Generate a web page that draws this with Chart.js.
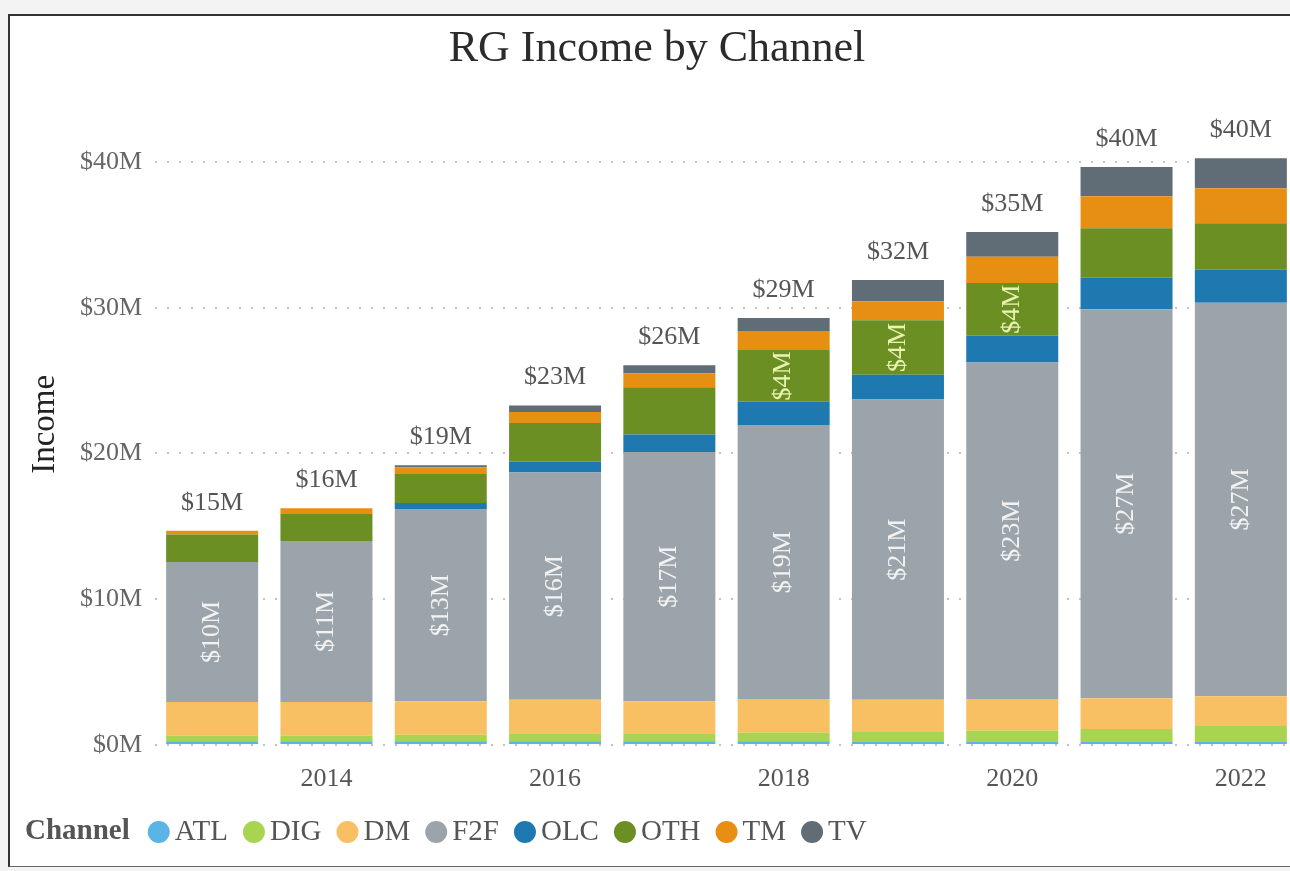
<!DOCTYPE html>
<html>
<head>
<meta charset="utf-8">
<title>RG Income by Channel</title>
<script src="https://cdn.jsdelivr.net/npm/chart.js@4.4.1/dist/chart.umd.min.js"></script>
<style>
  html, body { margin: 0; padding: 0; background: #f3f3f3; overflow: hidden; }
  #frame {
    position: absolute; left: 8px; top: 14px;
    width: 1320px; height: 850px;
    background: #fff;
    border-left: 2px solid #333; border-top: 2px solid #333; border-bottom: 1px solid #666;
  }
  #wrap { position: relative; width: 1300px; height: 850px; }
</style>
</head>
<body>
<div id="frame"><div id="wrap"><canvas id="incomeChart"></canvas></div></div>
<script>
const FONT = "'Liberation Serif', 'Times New Roman', serif";

const years = ['2013', '2014', '2015', '2016', '2017', '2018', '2019', '2020', '2021', '2022'];
const channels = ['ATL', 'DIG', 'DM', 'F2F', 'OLC', 'OTH', 'TM', 'TV'];

// income per channel, $M
const atl = [0.25, 0.25, 0.25, 0.25, 0.25, 0.25, 0.2, 0.2, 0.2, 0.2];
const dig = [0.4, 0.4, 0.45, 0.5, 0.5, 0.6, 0.7, 0.8, 0.9, 1.1];
const dm = [2.3, 2.3, 2.3, 2.35, 2.25, 2.3, 2.2, 2.15, 2.1, 2.05];
const f2f = [9.6, 11.05, 13.2, 15.6, 17.1, 18.8, 20.6, 23.1, 26.7, 27.0];
const olc = [0, 0, 0.4, 0.75, 1.2, 1.6, 1.7, 1.85, 2.15, 2.25];
const oth = [1.9, 1.85, 2.0, 2.65, 3.25, 3.55, 3.75, 3.6, 3.4, 3.2];
const tm = [0.25, 0.4, 0.45, 0.75, 0.95, 1.3, 1.3, 1.8, 2.2, 2.4];
const tv = [0, 0, 0.15, 0.45, 0.55, 0.9, 1.45, 1.7, 2.0, 2.05];

const yTicks = [0, 10, 20, 30, 40];

const series = [atl, dig, dm, f2f, olc, oth, tm, tv];

const COLORS = {
  ATL: '#5ab4e5',
  DIG: '#a8d451',
  DM: '#f8c062',
  F2F: '#9ba4ab',
  OLC: '#1f79b1',
  OTH: '#6c8f24',
  TM: '#e68f12',
  TV: '#606d76',
};
const INSIDE_TEXT = { OTH: '#e8f3b0' };

function money(v) {
  return '$' + Math.round(v) + 'M';
}

const data = {
  labels: years,
  datasets: channels.map((name, i) => ({
    label: name,
    data: series[i],
    backgroundColor: COLORS[name],
    borderWidth: 0,
    categoryPercentage: 1,
    barPercentage: 0.805,
  }))
};

// rotated values inside the segments + totals over each bar
const barLabels = {
  id: 'barLabels',
  afterDatasetsDraw(chart) {
    const ctx = chart.ctx;
    const yScale = chart.scales.y;
    ctx.save();
    ctx.font = '26px ' + FONT;
    ctx.textAlign = 'center';
    ctx.textBaseline = 'middle';

    chart.data.datasets.forEach((ds, di) => {
      const meta = chart.getDatasetMeta(di);
      meta.data.forEach((bar, i) => {
        const text = money(ds.data[i]);
        const h = Math.abs(bar.base - bar.y);
        if (h < ctx.measureText(text).width + 2) return;
        ctx.save();
        ctx.translate(bar.x, (bar.y + bar.base) / 2);
        ctx.rotate(-Math.PI / 2);
        ctx.fillStyle = INSIDE_TEXT[ds.label] || '#f2f2f2';
        ctx.fillText(text, 0, 0);
        ctx.restore();
      });
    });

    ctx.fillStyle = '#555';
    years.forEach((yr, i) => {
      const total = series.reduce((s, arr) => s + arr[i], 0);
      const x = chart.getDatasetMeta(0).data[i].x;
      ctx.fillText(money(total), x, yScale.getPixelForValue(total) - 28);
    });
    ctx.restore();
  }
};

// title and the inline "Channel" legend
const decorations = {
  id: 'decorations',
  afterDraw(chart) {
    const ctx = chart.ctx;
    ctx.save();
    ctx.textBaseline = 'middle';

    ctx.textAlign = 'center';
    ctx.fillStyle = '#2b2b2b';
    ctx.font = '44px ' + FONT;
    ctx.fillText('RG Income by Channel', 647, 33);

    const ly = 816;
    ctx.textAlign = 'left';
    ctx.fillStyle = '#555';
    ctx.font = 'bold 29px ' + FONT;
    ctx.fillText('Channel', 15, ly);
    let x = 15 + ctx.measureText('Channel').width + 18;
    ctx.font = '29px ' + FONT;
    chart.data.datasets.forEach(ds => {
      ctx.beginPath();
      ctx.arc(x + 11, ly, 11, 0, 2 * Math.PI);
      ctx.fillStyle = ds.backgroundColor;
      ctx.fill();
      ctx.fillStyle = '#555';
      ctx.fillText(ds.label, x + 27, ly);
      x += 27 + ctx.measureText(ds.label).width + 15;
    });
    ctx.restore();
  }
};

Chart.defaults.font.family = FONT;
Chart.defaults.color = '#666';

const ctx = document.getElementById('incomeChart').getContext('2d');

new Chart(ctx, {
  type: 'bar',
  data: data,
  options: {
    responsive: true,
    maintainAspectRatio: false,
    animation: false,
    devicePixelRatio: 1,
    layout: {
      padding: { top: 87.7, bottom: 71, left: 0, right: 12 }
    },
    plugins: {
      legend: { display: false },
      title: { display: false },
      tooltip: { enabled: false },
    },
    scales: {
      x: {
        stacked: true,
        grid: { display: false },
        border: { display: false },
        ticks: {
          autoSkip: false,
          maxRotation: 0,
          padding: 11,
          color: '#555',
          font: { size: 26 },
          callback(value, index) {
            return index % 2 === 1 ? years[index] : '';
          }
        },
        afterFit(scale) {
          scale.height = 50;
        }
      },
      y: {
        stacked: true,
        min: 0,
        max: 44,
        title: {
          display: true,
          text: 'Income',
          color: '#222',
          font: { size: 33 },
          padding: { top: 16, bottom: 0 }
        },
        grid: {
          drawTicks: false,
          color: '#c4c4c4',
          lineWidth: 2,
        },
        border: {
          display: false,
          dash: [2, 10]
        },
        ticks: {
          stepSize: 10,
          padding: 13,
          color: '#666',
          font: { size: 26 },
          callback(value) {
            return '$' + value + 'M';
          }
        },
        afterBuildTicks(scale) {
          scale.ticks = yTicks.map(v => ({ value: v }));
        },
        afterFit(scale) {
          scale.width = 145;
        }
      }
    }
  },
  plugins: [barLabels, decorations]
});
</script>
</body>
</html>
